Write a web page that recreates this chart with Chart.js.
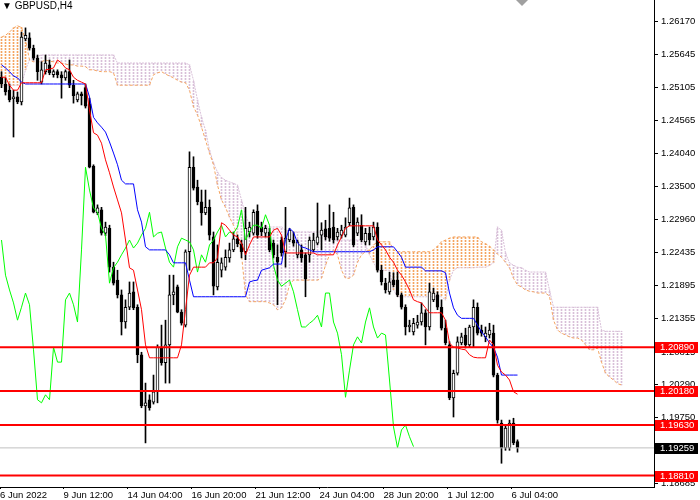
<!DOCTYPE html>
<html>
<head>
<meta charset="utf-8">
<script src="https://cdn.jsdelivr.net/npm/chart.js@4.4.0/dist/chart.umd.min.js"></script>
<style>
  html, body { margin: 0; padding: 0; background: #fff; }
  #wrap { position: relative; width: 700px; height: 500px; }
  #title { position: absolute; left: 2px; top: 0px; font: 10px 'Liberation Sans', sans-serif; color: #000; white-space: nowrap; }
</style>
</head>
<body>
<div id="wrap">
  <canvas id="chart" width="700" height="500"></canvas>
  <div id="title">▼ GBPUSD,H4</div>
</div>
<script>
// visible window (bar index / price)
const xMin = -0.375, xMax = 163.125;
const yMin = 1.18625, yMax = 1.26522;

const yTicks = [1.26170, 1.25645, 1.25105, 1.24565, 1.24040, 1.23500, 1.22960, 1.22435,
                1.21895, 1.21355, 1.20815, 1.20290, 1.19750, 1.19210, 1.18685];
const xTickBars = [0, 16, 32, 48, 64, 80, 96, 112, 128];
const xLabels = ['6 Jun 2022', '9 Jun 12:00', '14 Jun 04:00', '16 Jun 20:00', '21 Jun 12:00',
                 '24 Jun 04:00', '28 Jun 20:00', '1 Jul 12:00', '6 Jul 04:00'];

const levels = [1.20890, 1.20180, 1.19630, 1.18810];
const bid = 1.19259;

// GBPUSD H4 candles
const open = [
  1.2527, 1.2516, 1.2506, 1.2492, 1.2495, 1.2487, 1.2589, 1.2591, 1.2574, 1.2558,
  1.2519, 1.2536, 1.2547, 1.2531, 1.2536, 1.2531, 1.2526, 1.2536, 1.2514, 1.2490,
  1.2500, 1.2510, 1.2484, 1.2383, 1.2307, 1.2312, 1.2274, 1.2282, 1.2219, 1.2198,
  1.2174, 1.2130, 1.2154, 1.2179, 1.2154, 1.2077, 1.1994, 1.2004, 1.2000, 1.2017,
  1.2089, 1.2064, 1.2093, 1.2174, 1.2187, 1.2146, 1.2125, 1.2244, 1.2381, 1.2349,
  1.2325, 1.2307, 1.2316, 1.2268, 1.2187, 1.2214, 1.2219, 1.2234, 1.2247, 1.2265,
  1.2257, 1.2244, 1.2276, 1.2274, 1.2310, 1.2284, 1.2274, 1.2276, 1.2258, 1.2235,
  1.2263, 1.2244, 1.2263, 1.2263, 1.2239, 1.2247, 1.2239, 1.2239, 1.2247, 1.2258,
  1.2271, 1.2281, 1.2282, 1.2284, 1.2268, 1.2271, 1.2271, 1.2291, 1.2316, 1.2274,
  1.2287, 1.2260, 1.2274, 1.2268, 1.2284, 1.2214, 1.2193, 1.2179, 1.2198, 1.2198,
  1.2174, 1.2154, 1.2122, 1.2114, 1.2125, 1.2130, 1.2145, 1.2122, 1.2166, 1.2174,
  1.2154, 1.2120, 1.2093, 1.2007, 1.2047, 1.2096, 1.2109, 1.2093, 1.2122, 1.2154,
  1.2117, 1.2106, 1.2109, 1.2112, 1.2044, 1.1966, 1.1926, 1.1926, 1.1966, 1.1936
];
const high = [
  1.2536, 1.2526, 1.2516, 1.2506, 1.2503, 1.2600, 1.2607, 1.2599, 1.2579, 1.2563,
  1.2552, 1.2563, 1.2555, 1.2539, 1.2539, 1.2536, 1.2539, 1.2555, 1.2522, 1.2503,
  1.2503, 1.2516, 1.2493, 1.2385, 1.2320, 1.2316, 1.2292, 1.2287, 1.2227, 1.2214,
  1.2182, 1.2166, 1.2195, 1.2195, 1.2158, 1.2081, 1.2031, 1.2012, 1.2044, 1.2093,
  1.2125, 1.2133, 1.2206, 1.2206, 1.2190, 1.2150, 1.2247, 1.2406, 1.2398, 1.2360,
  1.2344, 1.2344, 1.2328, 1.2276, 1.2255, 1.2234, 1.2247, 1.2258, 1.2276, 1.2271,
  1.2263, 1.2316, 1.2292, 1.2312, 1.2320, 1.2292, 1.2287, 1.2282, 1.2263, 1.2255,
  1.2268, 1.2316, 1.2282, 1.2276, 1.2263, 1.2255, 1.2242, 1.2268, 1.2274, 1.2323,
  1.2291, 1.2295, 1.2320, 1.2308, 1.2282, 1.2287, 1.2299, 1.2331, 1.2320, 1.2299,
  1.2304, 1.2282, 1.2284, 1.2292, 1.2291, 1.2222, 1.2201, 1.2211, 1.2210, 1.2211,
  1.2177, 1.2158, 1.2133, 1.2136, 1.2141, 1.2161, 1.2150, 1.2193, 1.2185, 1.2179,
  1.2166, 1.2133, 1.2098, 1.2052, 1.2106, 1.2112, 1.2120, 1.2125, 1.2166, 1.2161,
  1.2125, 1.2122, 1.2128, 1.2125, 1.2047, 1.1971, 1.1963, 1.1971, 1.1974, 1.1939
];
const low = [
  1.2510, 1.2498, 1.2487, 1.2430, 1.2484, 1.2482, 1.2586, 1.2571, 1.2555, 1.2522,
  1.2516, 1.2532, 1.2531, 1.2527, 1.2526, 1.2493, 1.2522, 1.2510, 1.2485, 1.2487,
  1.2482, 1.2477, 1.2380, 1.2307, 1.2304, 1.2271, 1.2270, 1.2211, 1.2190, 1.2169,
  1.2109, 1.2120, 1.2150, 1.2150, 1.2064, 1.1991, 1.1934, 1.1987, 1.1997, 1.1999,
  1.2060, 1.2031, 1.2031, 1.2158, 1.2145, 1.2125, 1.2122, 1.2214, 1.2344, 1.2320,
  1.2287, 1.2304, 1.2263, 1.2174, 1.2182, 1.2203, 1.2214, 1.2227, 1.2244, 1.2252,
  1.2234, 1.2231, 1.2268, 1.2271, 1.2266, 1.2270, 1.2268, 1.2244, 1.2234, 1.2158,
  1.2237, 1.2219, 1.2260, 1.2253, 1.2234, 1.2227, 1.2171, 1.2227, 1.2244, 1.2255,
  1.2247, 1.2263, 1.2261, 1.2258, 1.2263, 1.2266, 1.2268, 1.2286, 1.2252, 1.2270,
  1.2260, 1.2255, 1.2255, 1.2263, 1.2211, 1.2190, 1.2177, 1.2175, 1.2187, 1.2171,
  1.2151, 1.2109, 1.2114, 1.2109, 1.2120, 1.2125, 1.2093, 1.2117, 1.2163, 1.2150,
  1.2117, 1.2093, 1.2004, 1.1976, 1.2044, 1.2093, 1.2088, 1.2089, 1.2089, 1.2109,
  1.2107, 1.2098, 1.2104, 1.2041, 1.1966, 1.1901, 1.1922, 1.1922, 1.1931, 1.1919
];
const close = [
  1.2516, 1.2503, 1.2490, 1.2495, 1.2487, 1.2592, 1.2595, 1.2574, 1.2558, 1.2536,
  1.2539, 1.2550, 1.2534, 1.2536, 1.2531, 1.2526, 1.2536, 1.2514, 1.2497, 1.2500,
  1.2497, 1.2480, 1.2381, 1.2308, 1.2315, 1.2274, 1.2284, 1.2219, 1.2193, 1.2174,
  1.2130, 1.2154, 1.2177, 1.2153, 1.2077, 1.1994, 1.1999, 1.1991, 1.2017, 1.2089,
  1.2064, 1.2093, 1.2174, 1.2179, 1.2146, 1.2128, 1.2244, 1.2381, 1.2347, 1.2325,
  1.2307, 1.2316, 1.2271, 1.2188, 1.2227, 1.2226, 1.2235, 1.2247, 1.2265, 1.2257,
  1.2244, 1.2282, 1.2284, 1.2308, 1.2271, 1.2276, 1.2282, 1.2247, 1.2239, 1.2227,
  1.2242, 1.2266, 1.2279, 1.2258, 1.2260, 1.2234, 1.2200, 1.2263, 1.2263, 1.2268,
  1.2279, 1.2268, 1.2266, 1.2263, 1.2276, 1.2279, 1.2284, 1.2315, 1.2255, 1.2292,
  1.2263, 1.2274, 1.2263, 1.2284, 1.2214, 1.2195, 1.2182, 1.2195, 1.2190, 1.2174,
  1.2154, 1.2122, 1.2125, 1.2128, 1.2130, 1.2145, 1.2122, 1.2179, 1.2177, 1.2154,
  1.2120, 1.2096, 1.2007, 1.2047, 1.2098, 1.2106, 1.2093, 1.2122, 1.2154, 1.2112,
  1.2112, 1.2112, 1.2117, 1.2044, 1.1971, 1.1926, 1.1958, 1.1966, 1.1934, 1.1926
];

// Ichimoku lines as shown on the chart
const tenkan = [
  1.2527, 1.2527, 1.2514, 1.2506, 1.2506, 1.2518, 1.2518, 1.2518, 1.2518, 1.2518,
  1.2518, 1.2539, 1.2540, 1.2542, 1.2555, 1.2550, 1.2542, 1.2539, 1.2527, 1.2522,
  1.2519, 1.2516, 1.2474, 1.2437, 1.2433, 1.2420, 1.2393, 1.2372, 1.2349, 1.2328,
  1.2307, 1.2263, 1.2218, 1.2214, 1.2182, 1.2150, 1.2093, 1.2072, 1.2072, 1.2072,
  1.2072, 1.2072, 1.2072, 1.2072, 1.2072, 1.2093, 1.2150, 1.2206, 1.2219, 1.2219,
  1.2219, 1.2219, 1.2226, 1.2226, 1.2234, 1.2291, 1.2287, 1.2279, 1.2271, 1.2268,
  1.2258, 1.2239, 1.2255, 1.2268, 1.2268, 1.2268, 1.2268, 1.2268, 1.2279, 1.2282,
  1.2271, 1.2242, 1.2242, 1.2242, 1.2242, 1.2242, 1.2242, 1.2242, 1.2242, 1.2239,
  1.2239, 1.2239, 1.2239, 1.2239, 1.2255, 1.2268, 1.2282, 1.2286, 1.2286, 1.2286,
  1.2286, 1.2286, 1.2286, 1.2286, 1.2263, 1.2255, 1.2247, 1.2235, 1.2227, 1.2214,
  1.2206, 1.2195, 1.2182, 1.2166, 1.2163, 1.2161, 1.2153, 1.2145, 1.2145, 1.2145,
  1.2145, 1.2133, 1.2096, 1.2089, 1.2088, 1.2086, 1.2085, 1.2077, 1.2073, 1.2072,
  1.2072, 1.2072, 1.2101, 1.2093, 1.2060, 1.2049, 1.2044, 1.2036, 1.2017, 1.2013
];
const kijun = [
  1.2547, 1.2542, 1.2536, 1.2529, 1.2526, 1.2519, 1.2516, 1.2516, 1.2516, 1.2516,
  1.2516, 1.2516, 1.2516, 1.2516, 1.2516, 1.2516, 1.2516, 1.2516, 1.2516, 1.2516,
  1.2516, 1.2516, 1.2495, 1.2462, 1.2453, 1.2446, 1.2438, 1.2422, 1.2404, 1.2385,
  1.2360, 1.2354, 1.2354, 1.2354, 1.2312, 1.2292, 1.2252, 1.2247, 1.2247, 1.2247,
  1.2247, 1.2247, 1.2239, 1.2226, 1.2226, 1.2226, 1.2226, 1.2198, 1.2171, 1.2171,
  1.2171, 1.2171, 1.2171, 1.2171, 1.2171, 1.2171, 1.2171, 1.2171, 1.2171, 1.2171,
  1.2171, 1.2171, 1.2195, 1.2197, 1.2198, 1.2214, 1.2216, 1.2218, 1.2224, 1.2224,
  1.2224, 1.2263, 1.2282, 1.2276, 1.2258, 1.2252, 1.2250, 1.2247, 1.2244, 1.2244,
  1.2244, 1.2244, 1.2244, 1.2244, 1.2244, 1.2244, 1.2244, 1.2244, 1.2244, 1.2244,
  1.2244, 1.2244, 1.2244, 1.2247, 1.2252, 1.2252, 1.2252, 1.2252, 1.2252, 1.2244,
  1.2235, 1.2219, 1.2219, 1.2219, 1.2219, 1.2219, 1.2213, 1.2213, 1.2213, 1.2213,
  1.2213, 1.2210, 1.2177, 1.2153, 1.2141, 1.2136, 1.2136, 1.2136, 1.2136, 1.2125,
  1.2114, 1.2106, 1.2096, 1.2089, 1.2073, 1.2044, 1.2044, 1.2044, 1.2044, 1.2044
];
const chikou = [
  1.2263, 1.2206, 1.2182, 1.2161, 1.2133, 1.2154, 1.2177, 1.2158, 1.2085, 1.2004,
  1.1999, 1.2012, 1.2004, 1.2089, 1.2065, 1.2065, 1.2166, 1.2177, 1.2158, 1.2130,
  1.2247, 1.2381, 1.2344, 1.2315, 1.2308, 1.2282, 1.2271, 1.2193, 1.2218, 1.2227,
  1.2239, 1.2250, 1.2263, 1.2250, 1.2258, 1.2271, 1.2282, 1.2308, 1.2268, 1.2274,
  1.2276, 1.2250, 1.2227, 1.2219, 1.2252, 1.2266, 1.2263, 1.2260, 1.2247, 1.2211,
  1.2239, 1.2227, 1.2255, 1.2263, 1.2276, 1.2287, 1.2268, 1.2276, 1.2274, 1.2284,
  1.2312, 1.2263, 1.2276, 1.2287, 1.2287, 1.2282, 1.2304, 1.2287, 1.2222, 1.2198,
  1.2188, 1.2193, 1.2198, 1.2179, 1.2150, 1.2122, 1.2122, 1.2128, 1.2133, 1.2141,
  1.2122, 1.2177, 1.2177, 1.2130, 1.2112, 1.2077, 1.2008, 1.2052, 1.2093, 1.2106,
  1.2096, 1.2130, 1.2153, 1.2122, 1.2104, 1.2112, 1.2109, 1.2036, 1.1960, 1.1926,
  1.1955, 1.1963, 1.1944, 1.1928
];
const spanA = [
  1.2592, 1.2595, 1.2600, 1.2607, 1.2610, 1.2608, 1.2587, 1.2555, 1.2552, 1.2552,
  1.2552, 1.2555, 1.2553, 1.2552, 1.2550, 1.2550, 1.2548, 1.2547, 1.2547, 1.2545,
  1.2545, 1.2544, 1.2539, 1.2539, 1.2537, 1.2536, 1.2536, 1.2536, 1.2534, 1.2514,
  1.2514, 1.2514, 1.2514, 1.2514, 1.2514, 1.2514, 1.2514, 1.2514, 1.2531, 1.2534,
  1.2536, 1.2532, 1.2529, 1.2526, 1.2522, 1.2519, 1.2518, 1.2506, 1.2479, 1.2466,
  1.2446, 1.2425, 1.2404, 1.2385, 1.2352, 1.2328, 1.2316, 1.2300, 1.2287, 1.2271,
  1.2239, 1.2174, 1.2163, 1.2163, 1.2163, 1.2163, 1.2163, 1.2161, 1.2158, 1.2150,
  1.2153, 1.2166, 1.2190, 1.2198, 1.2198, 1.2198, 1.2198, 1.2198, 1.2198, 1.2198,
  1.2201, 1.2222, 1.2239, 1.2247, 1.2239, 1.2214, 1.2201, 1.2201, 1.2206, 1.2227,
  1.2239, 1.2244, 1.2247, 1.2255, 1.2260, 1.2260, 1.2260, 1.2260, 1.2247, 1.2244,
  1.2244, 1.2244, 1.2244, 1.2244, 1.2244, 1.2244, 1.2244, 1.2244, 1.2247, 1.2253,
  1.2260, 1.2263, 1.2266, 1.2268, 1.2268, 1.2268, 1.2268, 1.2268, 1.2268, 1.2268,
  1.2260, 1.2257, 1.2253, 1.2247, 1.2240, 1.2235, 1.2227, 1.2218, 1.2201, 1.2190,
  1.2187, 1.2182, 1.2180, 1.2179, 1.2177, 1.2177, 1.2177, 1.2172, 1.2133, 1.2117,
  1.2112, 1.2109, 1.2106, 1.2104, 1.2104, 1.2101, 1.2093, 1.2085, 1.2085, 1.2088,
  1.2065, 1.2047, 1.2041, 1.2036, 1.2030, 1.2028
];
const spanB = [
  1.2514, 1.2514, 1.2514, 1.2514, 1.2514, 1.2514, 1.2539, 1.2555, 1.2558, 1.2561,
  1.2563, 1.2563, 1.2563, 1.2563, 1.2563, 1.2563, 1.2563, 1.2563, 1.2563, 1.2563,
  1.2563, 1.2563, 1.2563, 1.2563, 1.2563, 1.2563, 1.2563, 1.2563, 1.2563, 1.2550,
  1.2550, 1.2550, 1.2550, 1.2550, 1.2550, 1.2550, 1.2550, 1.2550, 1.2550, 1.2550,
  1.2550, 1.2550, 1.2550, 1.2550, 1.2550, 1.2550, 1.2550, 1.2547, 1.2522, 1.2490,
  1.2462, 1.2441, 1.2409, 1.2388, 1.2373, 1.2364, 1.2360, 1.2357, 1.2355, 1.2352,
  1.2328, 1.2304, 1.2287, 1.2284, 1.2284, 1.2284, 1.2284, 1.2284, 1.2284, 1.2284,
  1.2284, 1.2279, 1.2276, 1.2276, 1.2276, 1.2276, 1.2276, 1.2276, 1.2276, 1.2276,
  1.2276, 1.2271, 1.2266, 1.2263, 1.2263, 1.2263, 1.2263, 1.2263, 1.2263, 1.2263,
  1.2263, 1.2255, 1.2239, 1.2227, 1.2214, 1.2214, 1.2214, 1.2214, 1.2182, 1.2171,
  1.2171, 1.2171, 1.2171, 1.2171, 1.2171, 1.2171, 1.2171, 1.2171, 1.2171, 1.2171,
  1.2171, 1.2166, 1.2198, 1.2214, 1.2218, 1.2218, 1.2218, 1.2218, 1.2218, 1.2219,
  1.2219, 1.2219, 1.2222, 1.2226, 1.2284, 1.2279, 1.2242, 1.2226, 1.2222, 1.2219,
  1.2218, 1.2214, 1.2211, 1.2211, 1.2211, 1.2211, 1.2211, 1.2182, 1.2154, 1.2154,
  1.2154, 1.2154, 1.2154, 1.2154, 1.2154, 1.2154, 1.2154, 1.2154, 1.2154, 1.2154,
  1.2117, 1.2115, 1.2115, 1.2115, 1.2115, 1.2115
];

const pts = arr => arr.map((v, i) => ({ x: i, y: v }));
const SANDY = '#F4A460', THISTLE = '#D8BFD8';

// dotted stroke texture for the 1px cloud histogram (2 px colour, 1 px gap)
function dots(color) {
  const c = document.createElement('canvas');
  c.width = 1; c.height = 3;
  const g = c.getContext('2d');
  g.fillStyle = '#ffffff';
  g.fillRect(0, 0, 1, 3);
  g.fillStyle = color;
  g.fillRect(0, 0, 1, 2);
  return g.createPattern(c, 'repeat');
}
const sandyDots = dots(SANDY), thistleDots = dots(THISTLE);

const priceTags = {
  id: 'priceTags',
  afterDraw(chart) {
    const { ctx, scales: { y } } = chart;
    const tag = (v, bg) => {
      const py = Math.round(y.getPixelForValue(v));
      ctx.fillStyle = bg;
      ctx.fillRect(655, py - 5, 43, 11);
      ctx.fillStyle = '#fff';
      ctx.fillText(v.toFixed(5), 660, py + 0.5);
    };
    ctx.save();
    ctx.font = '9.5px "Liberation Sans"';
    ctx.textBaseline = 'middle';
    ctx.textAlign = 'left';
    levels.forEach(v => tag(v, '#ff0000'));
    tag(bid, '#000000');
    // chart shift marker
    ctx.fillStyle = '#a0a0a0';
    ctx.beginPath();
    ctx.moveTo(516, 0); ctx.lineTo(528, 0); ctx.lineTo(522, 6);
    ctx.closePath(); ctx.fill();
    ctx.restore();
  }
};

const lineDs = (label, data, color, order, extra) => Object.assign({
  type: 'line', label, data, borderColor: color, borderWidth: 1,
  pointRadius: 0, tension: 0, fill: false, order
}, extra || {});

const datasets = [
  // cloud: one thin dotted histogram stroke per bar between span A and span B
  {
    type: 'bar', label: 'Cloud', order: 12, grouped: false,
    data: spanA.map((a, i) => ({ x: i, y: [a, spanB[i]] })),
    backgroundColor: spanA.map((a, i) => a >= spanB[i] ? sandyDots : thistleDots),
    borderWidth: 0, barThickness: 1
  },
  lineDs('Senkou B', pts(spanB), THISTLE, 11, { borderDash: [2, 1] }),
  lineDs('Senkou A', pts(spanA), SANDY, 10, { borderDash: [3, 2] }),
  {
    type: 'bar', label: 'wick', order: 8, grouped: false,
    data: low.map((l, i) => ({ x: i, y: [l, high[i]] })),
    backgroundColor: '#000', borderWidth: 0, barThickness: 1
  },
  {
    type: 'bar', label: 'body', order: 7, grouped: false,
    data: open.map((o, i) => ({ x: i, y: [o, close[i]] })),
    backgroundColor: close.map((c, i) => c >= open[i] ? '#fff' : '#000'),
    borderColor: '#000', borderWidth: 1, borderSkipped: false,
    barThickness: 3, minBarLength: 1
  },
  lineDs('Chikou', pts(chikou), '#00ff00', 6),
  lineDs('Kijun', pts(kijun), '#0000ff', 5),
  lineDs('Tenkan', pts(tenkan), '#ff0000', 4),
  lineDs('Bid', [{ x: xMin, y: bid }, { x: xMax, y: bid }], '#c0c0c0', 3)
];
levels.forEach(v => datasets.push(
  lineDs('Level', [{ x: xMin, y: v }, { x: xMax, y: v }], '#ff0000', 2, { borderWidth: 2 })
));

Chart.defaults.font.family = "'Liberation Sans', sans-serif";
Chart.defaults.font.size = 9.5;
Chart.defaults.color = '#000';

new Chart(document.getElementById('chart'), {
  type: 'line',
  data: { datasets },
  options: {
    responsive: false,
    animation: false,
    layout: { padding: 0 },
    plugins: {
      legend: { display: false },
      tooltip: { enabled: false }
    },
    scales: {
      x: {
        type: 'linear', min: xMin, max: xMax, offset: false,
        grid: { drawOnChartArea: false, drawTicks: true, tickLength: 2, color: '#000', offset: false },
        border: { display: true, color: '#000' },
        ticks: {
          autoSkip: false, maxRotation: 0, align: 'start', padding: 1,
          callback: (v, i) => xLabels[i]
        },
        afterBuildTicks: s => { s.ticks = xTickBars.map(b => ({ value: Math.max(xMin, b - 0.5) })); },
        afterFit: s => { s.height = 13; s.paddingLeft = 0; s.paddingRight = 0; }
      },
      y: {
        type: 'linear', position: 'right', min: yMin, max: yMax,
        grid: { drawOnChartArea: false, drawTicks: true, tickLength: 4, color: '#000' },
        border: { display: true, color: '#000' },
        ticks: { padding: 3, callback: v => v.toFixed(5) },
        afterBuildTicks: s => { s.ticks = yTicks.map(v => ({ value: v })); },
        afterFit: s => { s.width = 46; s.paddingTop = 0; s.paddingBottom = 0; }
      }
    }
  },
  plugins: [priceTags]
});
</script>
</body>
</html>
